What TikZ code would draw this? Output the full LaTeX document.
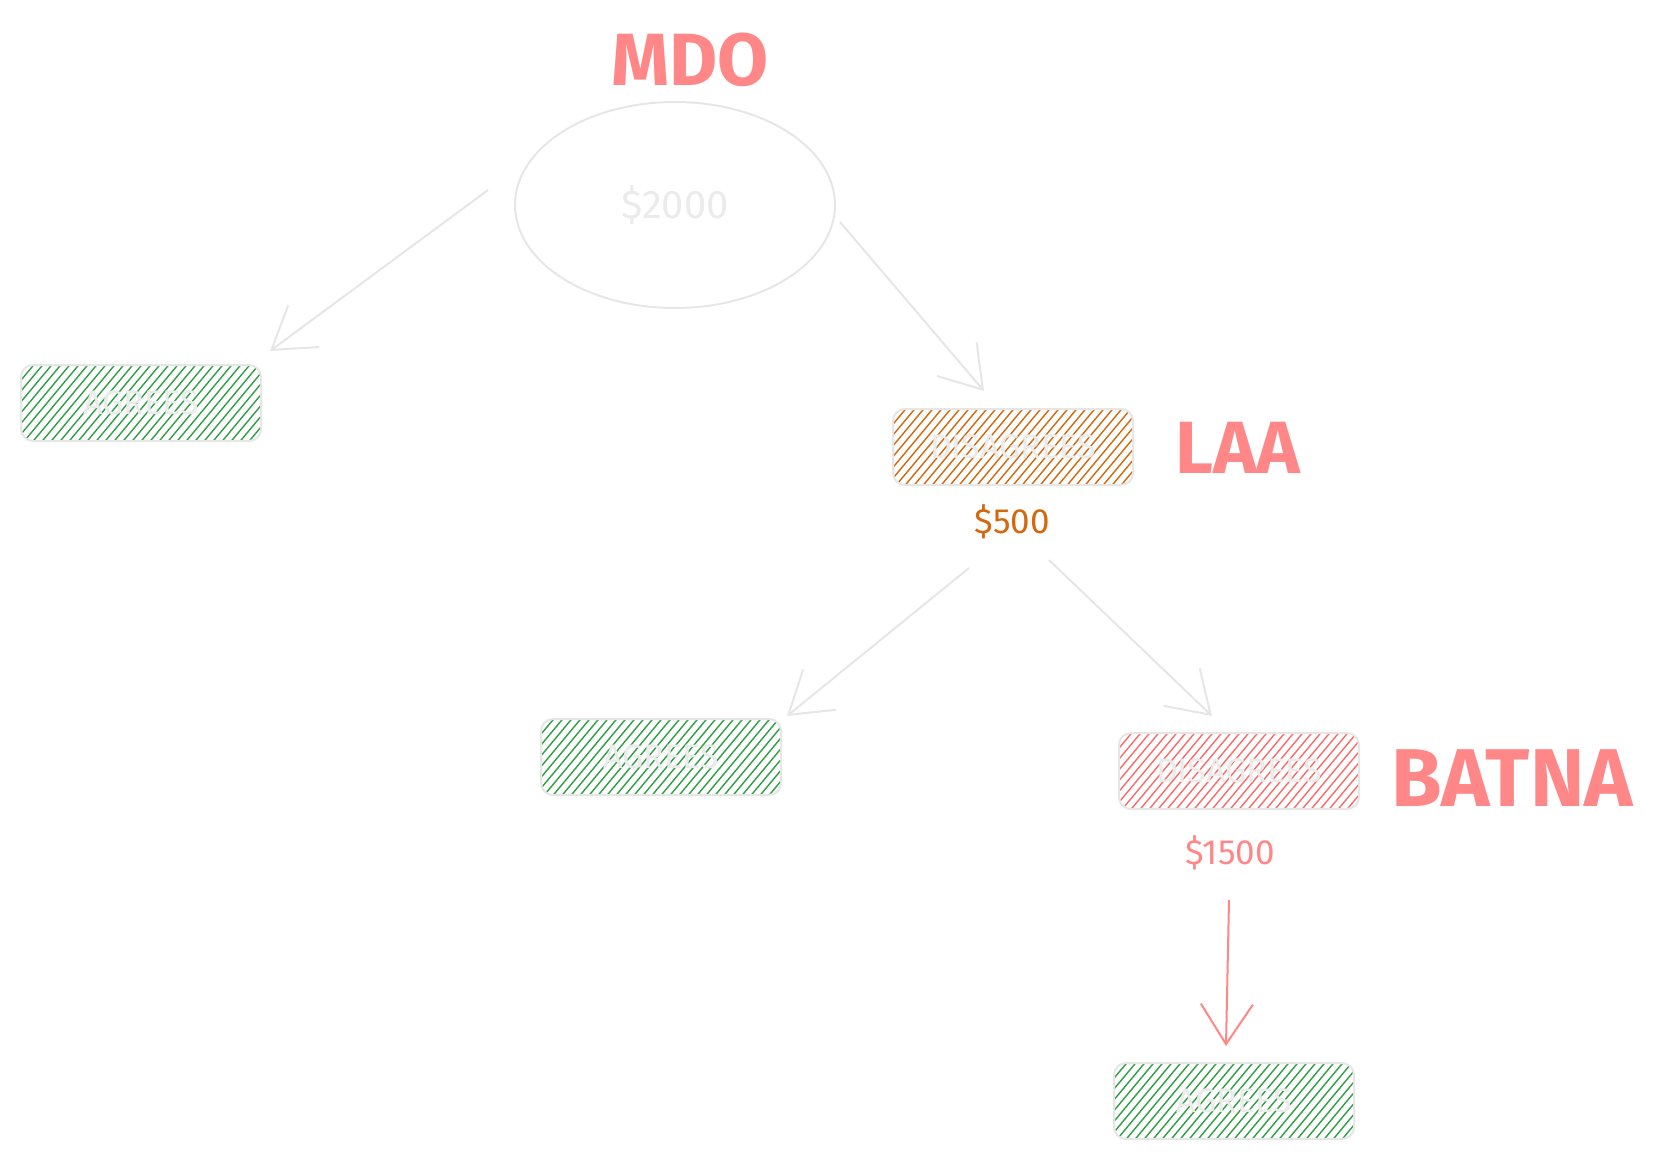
\documentclass[tikz,border=0pt]{standalone}
\usepackage{fontspec}
\setmainfont{Fira Sans}
\usetikzlibrary{shapes.geometric,arrows.meta}
\definecolor{lgray}{HTML}{E6E6E6}
\definecolor{tgray}{HTML}{EBEBEB}
\definecolor{hgreen}{HTML}{2F9E44}
\definecolor{horange}{HTML}{D2690F}
\definecolor{hred}{HTML}{FA6B6B}
\definecolor{salmon}{HTML}{FF8787}
\begin{document}
\begin{tikzpicture}[x=1pt,y=-1pt,
  hatchbox/.style={draw=lgray, line width=2pt, rounded corners=12pt,
    minimum width=240pt, minimum height=76pt, inner sep=0pt,
    text=tgray, font=\fontsize{34}{36}\selectfont,
    path picture={\foreach \i in {-90,-81,...,250}{
      \draw[#1, line width=1.4pt]
        ([xshift=\i pt, yshift=-4pt]path picture bounding box.south west) -- ++(70,-84);}}},
  conn/.style={draw=lgray, line width=2pt, -{Straight Barb[length=40pt,width=52pt,line width=2pt]}},
  big/.style={text=salmon, font=\fontsize{74}{74}\selectfont\bfseries},
  amount/.style={font=\fontsize{35}{36}\selectfont},
]
\useasboundingbox (0,0) rectangle (1656,1158);

% title labels
\node[big] (mdo) at (690,60) {MDO};
\node[big] (laa) at (1238,448) {LAA};
\node[big, font=\fontsize{82}{82}\selectfont\bfseries] (batna) at (1512,778) {BATNA};

% root ellipse
\node[ellipse, draw=lgray, line width=2pt, minimum width=320pt, minimum height=206pt,
  text=tgray, font=\fontsize{40}{40}\selectfont] (root) at (675,205) {\$2000};

% boxes
\node[hatchbox=hgreen] (a1) at (141,403) {AGREES};
\node[hatchbox=horange] (d1) at (1013,447) {DISAGREES};
\node[hatchbox=hgreen] (a2) at (661,757) {AGREES};
\node[hatchbox=hred] (d2) at (1239,771) {DISAGREES};
\node[hatchbox=hgreen] (a3) at (1234,1101) {AGREES};

% amounts
\node[amount, text=horange] (p500) at (1012,522) {\$500};
\node[amount, text=salmon] (p1500) at (1230,853) {\$1500};

% connector end points
\coordinate (s1) at (488,190);
\coordinate (t1) at (270,351);
\coordinate (s2) at (840,222);
\coordinate (t2) at (984,391);
\coordinate (s3) at (969,568);
\coordinate (t3) at (787,716);
\coordinate (s4) at (1049,560);
\coordinate (t4) at (1212,716);
\coordinate (s5) at (1229,900);
\coordinate (t5) at (1226,1046);

\draw[conn] (s1) -- (t1);
\draw[conn] (s2) -- (t2);
\draw[conn] (s3) -- (t3);
\draw[conn] (s4) -- (t4);
\draw[conn, draw=salmon] (s5) -- (t5);
\end{tikzpicture}
\end{document}
